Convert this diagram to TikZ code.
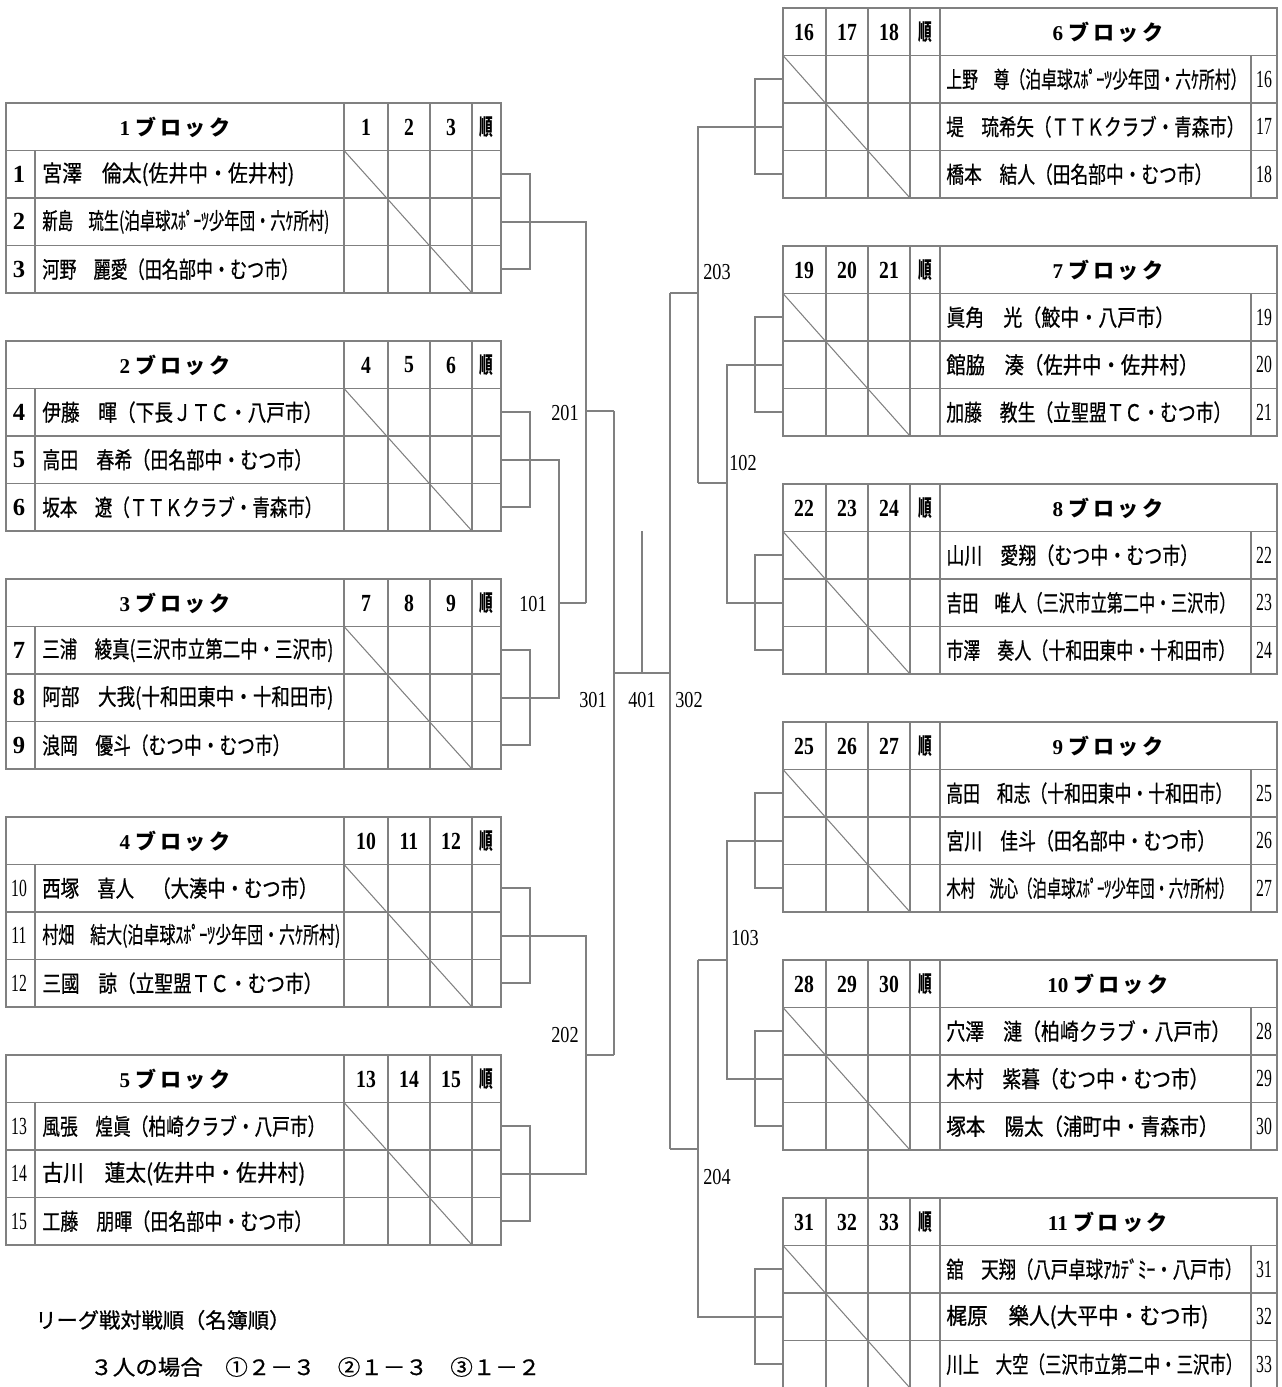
\documentclass[tikz,border=0pt]{standalone}
\usepackage{fontspec}
\usepackage{graphicx}
\setmainfont{Liberation Serif}
\newfontfamily\jp{Noto Sans CJK JP}
\newfontfamily\jpn[FakeBold=0.8]{Noto Sans CJK JP}
\newfontfamily\numf[FakeStretch=0.8]{Liberation Serif}
\definecolor{linegray}{RGB}{128,128,128}
\newlength\px
\setlength\px{0.02cm}
\newcommand\nm[2]{\resizebox{#1\px}{\height}{#2}}
\newcommand\blk[1]{{\rmfamily\bfseries #1}\hspace{3pt}ブ\hspace{2pt}ロ\hspace{2pt}ッ\hspace{2pt}ク}
\newcommand\idnum[1]{\ifnum#1<10\relax{\bfseries #1}\else{\numf\scalebox{0.8}[1]{#1}}\fi}
\usetikzlibrary{positioning}

\tikzset{
  rule/.style={draw=linegray, line width=1.1pt},
  thin rule/.style={draw=linegray, line width=0.6pt},
  namecell/.style={anchor=west, inner sep=0pt, font=\jpn\fontsize{13}{13}\selectfont},
  headcell/.style={inner sep=0pt, font=\jp\bfseries\fontsize{12}{12}\selectfont},
  scorehead/.style={inner sep=0pt, font=\numf\bfseries\fontsize{14}{14}\selectfont},
  juncell/.style={inner sep=0pt, font=\jp\bfseries\fontsize{13}{13}\selectfont},
  idcell/.style={inner sep=0pt, font=\rmfamily\fontsize{14}{14}\selectfont},
  matchlabel/.style={inner sep=0pt, font=\numf\fontsize{13}{13}\selectfont},
  note/.style={anchor=west, inner sep=0pt, font=\jpn\fontsize{12}{12}\selectfont},
}

\begin{document}
\begin{tikzpicture}[x=0.02cm, y=-0.02cm]
  \useasboundingbox (0,0) rectangle (1282,1387);

  % left blocks 1-5
  \foreach \b/\t/\na/\wa/\nb/\wb/\nc/\wc in {
    1/103/宮澤　倫太(佐井中・佐井村)/252/新島　琉生(泊卓球ｽﾎﾟｰﾂ少年団・六ｹ所村)/287/河野　麗愛（田名部中・むつ市）/256,
    2/341/伊藤　暉（下長ＪＴＣ・八戸市）/280/高田　春希（田名部中・むつ市）/270/坂本　遼（ＴＴＫクラブ・青森市）/280,
    3/579/三浦　綾真(三沢市立第二中・三沢市)/291/阿部　大我(十和田東中・十和田市)/291/浪岡　優斗（むつ中・むつ市）/248,
    4/817/西塚　喜人　（大湊中・むつ市）/275/村畑　結大(泊卓球ｽﾎﾟｰﾂ少年団・六ｹ所村)/298/三國　諒（立聖盟ＴＣ・むつ市）/280,
    5/1055/風張　煌眞（柏崎クラブ・八戸市）/283/古川　蓮太(佐井中・佐井村)/263/工藤　朋暉（田名部中・むつ市）/270}{
    \draw[rule] (6,\t) rectangle (501,\t+190);
    \foreach \dy in {47.5,95,142.5}
      \draw[rule] (6,\t+\dy) -- (501,\t+\dy);
    \foreach \x in {344,388,430,472}
      \draw[rule] (\x,\t) -- (\x,\t+190);
    \draw[rule] (35,\t+47.5) -- (35,\t+190);
    \draw[thin rule] (344,\t+47.5) -- (472,\t+190);
    \pgfmathtruncatemacro\pa{3*\b-2}
    \pgfmathtruncatemacro\pb{3*\b-1}
    \pgfmathtruncatemacro\pc{3*\b}
    \node[headcell] (L\b-head) at (175,\t+24) {\blk{\b}};
    \node[scorehead] (L\b-s1) at (366,\t+24) {\pa};
    \node[scorehead] (L\b-s2) at (409,\t+24) {\pb};
    \node[scorehead] (L\b-s3) at (451,\t+24) {\pc};
    \node[juncell] (L\b-jun) at (486,\t+24) {\scalebox{0.6}[1]{順}};
    \node[idcell] (L\b-i1) at (19,\t+71.25) {\idnum{\pa}};
    \node[idcell] (L\b-i2) at (19,\t+118.75) {\idnum{\pb}};
    \node[idcell] (L\b-i3) at (19,\t+166.25) {\idnum{\pc}};
    \node[namecell] (L\b-n1) at (42,\t+71.25) {\nm{\wa}{\na}};
    \node[namecell] (L\b-n2) at (42,\t+118.75) {\nm{\wb}{\nb}};
    \node[namecell] (L\b-n3) at (42,\t+166.25) {\nm{\wc}{\nc}};
    \coordinate (L\b-1) at (501,\t+71.25);
    \coordinate (L\b-2) at (501,\t+118.75);
    \coordinate (L\b-3) at (501,\t+166.25);
    \draw[rule] (L\b-1) -- ++(29,0) |- (L\b-3);
  }

  % right blocks 6-11
  \foreach \b/\t/\na/\wa/\nb/\wb/\nc/\wc in {
    6/8/上野　尊（泊卓球ｽﾎﾟｰﾂ少年団・六ｹ所村）/300/堤　琉希矢（ＴＴＫクラブ・青森市）/298/橋本　結人（田名部中・むつ市）/266,
    7/246/眞角　光（鮫中・八戸市）/228/館脇　湊（佐井中・佐井村）/252/加藤　教生（立聖盟ＴＣ・むつ市）/285,
    8/484/山川　愛翔（むつ中・むつ市）/252/吉田　唯人（三沢市立第二中・三沢市）/289/市澤　奏人（十和田東中・十和田市）/289,
    9/722/高田　和志（十和田東中・十和田市）/286/宮川　佳斗（田名部中・むつ市）/269/木村　洸心（泊卓球ｽﾎﾟｰﾂ少年団・六ｹ所村）/287,
    10/960/穴澤　漣（柏崎クラブ・八戸市）/284/木村　紫暮（むつ中・むつ市）/262/塚本　陽太（浦町中・青森市）/272,
    11/1198/舘　天翔（八戸卓球ｱｶﾃﾞﾐｰ・八戸市）/296/梶原　樂人(大平中・むつ市)/262/川上　大空（三沢市立第二中・三沢市）/296}{
    \draw[rule] (783,\t) rectangle (1277,\t+190);
    \foreach \dy in {47.5,95,142.5}
      \draw[rule] (783,\t+\dy) -- (1277,\t+\dy);
    \foreach \x in {826,868,910,940}
      \draw[rule] (\x,\t) -- (\x,\t+190);
    \draw[rule] (1251,\t+47.5) -- (1251,\t+190);
    \draw[thin rule] (783,\t+47.5) -- (910,\t+190);
    \pgfmathtruncatemacro\pa{3*\b-2}
    \pgfmathtruncatemacro\pb{3*\b-1}
    \pgfmathtruncatemacro\pc{3*\b}
    \node[headcell] (R\b-head) at (1108,\t+24) {\blk{\b}};
    \node[scorehead] (R\b-s1) at (804,\t+24) {\pa};
    \node[scorehead] (R\b-s2) at (847,\t+24) {\pb};
    \node[scorehead] (R\b-s3) at (889,\t+24) {\pc};
    \node[juncell] (R\b-jun) at (925,\t+24) {\scalebox{0.6}[1]{順}};
    \node[namecell] (R\b-n1) at (946,\t+71.25) {\nm{\wa}{\na}};
    \node[namecell] (R\b-n2) at (946,\t+118.75) {\nm{\wb}{\nb}};
    \node[namecell] (R\b-n3) at (946,\t+166.25) {\nm{\wc}{\nc}};
    \node[idcell] (R\b-i1) at (1264,\t+71.25) {\idnum{\pa}};
    \node[idcell] (R\b-i2) at (1264,\t+118.75) {\idnum{\pb}};
    \node[idcell] (R\b-i3) at (1264,\t+166.25) {\idnum{\pc}};
    \coordinate (R\b-1) at (783,\t+71.25);
    \coordinate (R\b-2) at (783,\t+118.75);
    \coordinate (R\b-3) at (783,\t+166.25);
    \draw[rule] (R\b-1) -- ++(-28,0) |- (R\b-3);
  }

  % left tree
  \coordinate (m101) at (559,603);
  \coordinate (w101) at (586,603);
  \coordinate (m201) at (586,411);
  \coordinate (w201) at (614,411);
  \coordinate (m202) at (586,1055);
  \coordinate (w202) at (614,1055);
  \coordinate (m301) at (614,673);
  \coordinate (m302) at (670,673);
  \coordinate (m401) at (642,673);
  \coordinate (top401) at (642,531);
  \draw[rule] (L2-2) -| (m101) |- (L3-2);
  \draw[rule] (m101) -- (w101);
  \draw[rule] (L1-2) -| (w101);
  \draw[rule] (m201) -- (w201);
  \draw[rule] (L4-2) -| (m202) |- (L5-2);
  \draw[rule] (m202) -- (w202);
  \draw[rule] (w201) -- (w202);
  \draw[rule] (m301) -- (m302);
  \draw[rule] (m401) -- (top401);

  % right tree
  \coordinate (m102) at (727,483);
  \coordinate (w102) at (698,483);
  \coordinate (m203) at (698,293);
  \coordinate (w203) at (670,293);
  \coordinate (m103) at (727,960);
  \coordinate (w103) at (698,960);
  \coordinate (m204) at (698,1149);
  \coordinate (w204) at (670,1149);
  \draw[rule] (R7-2) -| (m102) |- (R8-2);
  \draw[rule] (m102) -- (w102);
  \draw[rule] (R6-2) -| (w102);
  \draw[rule] (m203) -- (w203);
  \draw[rule] (R9-2) -| (m103) |- (R10-2);
  \draw[rule] (m103) -- (w103);
  \draw[rule] (R11-2) -| (w103);
  \draw[rule] (m204) -- (w204);
  \draw[rule] (w203) -- (w204);
  \coordinate (R10-foot) at (868,1150);
  \coordinate (R11-cap) at (868,1198);
  \draw[rule] (R10-foot) -- (R11-cap);

  % match numbers
  \node[matchlabel] (lab101) at (533,604) {101};
  \node[matchlabel] (lab201) at (565,413) {201};
  \node[matchlabel] (lab202) at (565,1035) {202};
  \node[matchlabel] (lab301) at (593,700) {301};
  \node[matchlabel] (lab401) at (642,700) {401};
  \node[matchlabel] (lab302) at (689,700) {302};
  \node[matchlabel] (lab203) at (717,272) {203};
  \node[matchlabel] (lab102) at (743,463) {102};
  \node[matchlabel] (lab103) at (745,938) {103};
  \node[matchlabel] (lab204) at (717,1177) {204};

  % league order note
  \node[note] (order) at (35,1320) {\nm{255}{リーグ戦対戦順（名簿順）}};
  \node[note] (three) at (90,1367) {\nm{450}{３人の場合　①２－３　②１－３　③１－２}};
\end{tikzpicture}
\end{document}
